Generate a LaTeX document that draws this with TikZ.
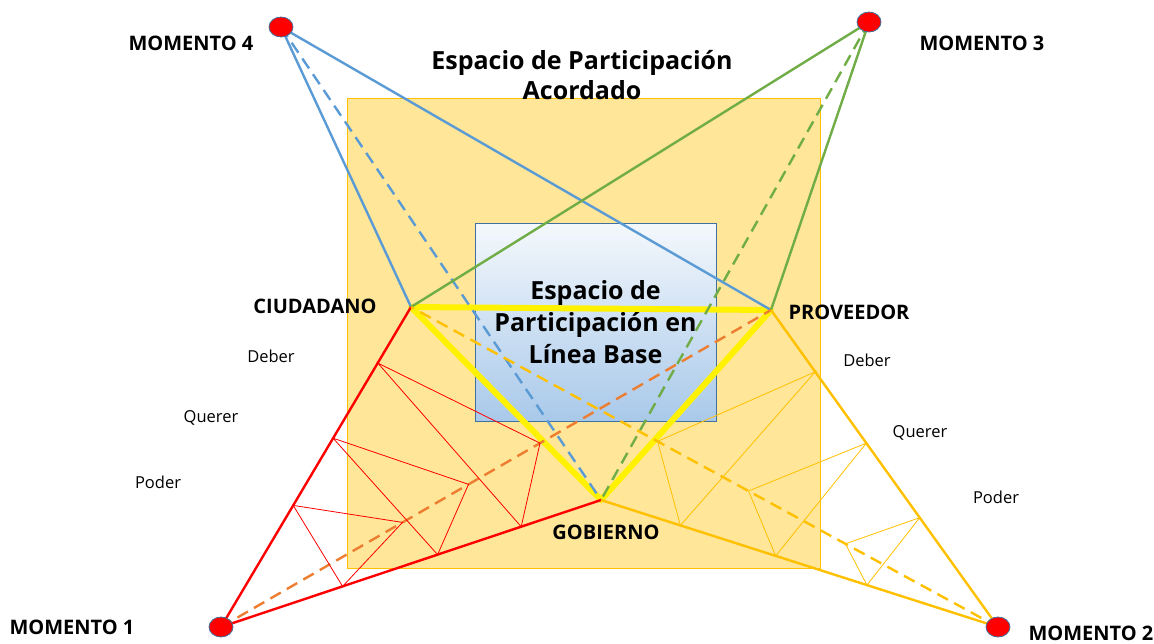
\documentclass[tikz,border=0pt]{standalone}
\usepackage{fontspec}
\setmainfont{Open Sans}
\usetikzlibrary{shapes.geometric,calc}
\definecolor{momblue}{HTML}{5B9BD5}
\definecolor{momgreen}{HTML}{70AD47}
\definecolor{momred}{HTML}{FF0000}
\definecolor{momgold}{HTML}{FFC000}
\definecolor{momorange}{HTML}{ED7D31}
\definecolor{acordfill}{HTML}{FFE699}
\definecolor{baseline}{HTML}{41719C}
\definecolor{basetop}{HTML}{F4F8FC}
\definecolor{basebottom}{HTML}{A9C9EA}
\begin{document}
\begin{tikzpicture}[x=1pt,y=-1pt,
  dot/.style={ellipse,draw=baseline,fill=red,minimum width=24pt,minimum height=20pt,inner sep=0pt,line width=.8pt},
  side/.style={line width=2.4pt},
  guide/.style={line width=2.4pt,dash pattern=on 12pt off 7pt},
  fold/.style={line width=.8pt},
  momtag/.style={font=\bfseries\fontsize{20}{22}\selectfont},
  actortag/.style={font=\bfseries\fontsize{20}{22}\selectfont},
  actitud/.style={font=\fontsize{16.5}{18}\selectfont},
  heading/.style={font=\bfseries\fontsize{25}{31}\selectfont,align=center}]
\useasboundingbox (0,0) rectangle (1154,643);
% spaces
\node[draw=momgold,fill=acordfill,line width=1pt,minimum width=473pt,minimum height=470pt,inner sep=0pt] (acordado) at (583.5,333) {};
\node[draw=baseline,top color=basetop,bottom color=basebottom,line width=1pt,minimum width=241pt,minimum height=198pt,inner sep=0pt,heading,font=\bfseries\fontsize{25}{32}\selectfont] (base) at (595.5,322) {Espacio de\\Participación en\\Línea Base};
% moments and actors
\coordinate (m1) at (221,627);
\coordinate (m2) at (998,627);
\coordinate (m3) at (869,22);
\coordinate (m4) at (281,27);
\coordinate (ciud) at (411,307);
\coordinate (prov) at (771,310);
\coordinate (gob) at (601,500);
% base line triangle
\draw [yellow,line width=6pt,line join=round] (ciud) -- (prov) -- (gob) -- cycle;
% momento 4
\draw [side,momblue] (m4) -- (ciud);
\draw [side,momblue] (m4) -- (prov);
\draw [guide,momblue] (m4) -- (gob);
% momento 3
\draw [side,momgreen] (m3) -- (ciud);
\draw [side,momgreen] (m3) -- (prov);
\draw [guide,momgreen] (m3) -- (gob);
% momento 1
\draw [side,momred] (m1) -- (ciud);
\draw [side,momred] (m1) -- (gob);
\draw [guide,momorange] (m1) -- (prov);
\foreach \a/\b/\c in {.825/.58/.79, .59/.45/.57, .38/.33/.32}
  \draw [fold,momred] ($(m1)!\a!(ciud)$) -- ($(m1)!\b!(prov)$) -- ($(m1)!\c!(gob)$) -- cycle;
% momento 2
\draw [side,momgold] (m2) -- (prov);
\draw [side,momgold] (m2) -- (gob);
\draw [guide,momgold] (m2) -- (ciud);
\foreach \a/\b/\c in {.805/.58/.80, .58/.425/.56, .345/.26/.33}
  \draw [fold,momgold] ($(m2)!\a!(prov)$) -- ($(m2)!\b!(ciud)$) -- ($(m2)!\c!(gob)$) -- cycle;
% dots
\node [dot] (dot1) at (m1) {};
\node [dot] (dot2) at (m2) {};
\node [dot] (dot3) at (m3) {};
\node [dot] (dot4) at (m4) {};
% texts
\node [heading,font=\bfseries\fontsize{25}{30}\selectfont] (titulo) at (582,75) {Espacio de Participación\\Acordado};
\node [momtag] (t1) at (72,627) {MOMENTO 1};
\node [momtag] (t2) at (1091,633) {MOMENTO 2};
\node [momtag] (t3) at (982,43) {MOMENTO 3};
\node [momtag] (t4) at (191,43) {MOMENTO 4};
\node [actortag] (tciud) at (315,306) {CIUDADANO};
\node [actortag] (tprov) at (849,312) {PROVEEDOR};
\node [actortag] (tgob) at (606,532) {GOBIERNO};
\node [actitud] (deb1) at (271,356) {Deber};
\node [actitud] (que1) at (211,418) {Querer};
\node [actitud] (pod1) at (158,482) {Poder};
\node [actitud] (deb2) at (867,360) {Deber};
\node [actitud] (que2) at (920,433) {Querer};
\node [actitud] (pod2) at (996,497) {Poder};
\end{tikzpicture}
\end{document}
